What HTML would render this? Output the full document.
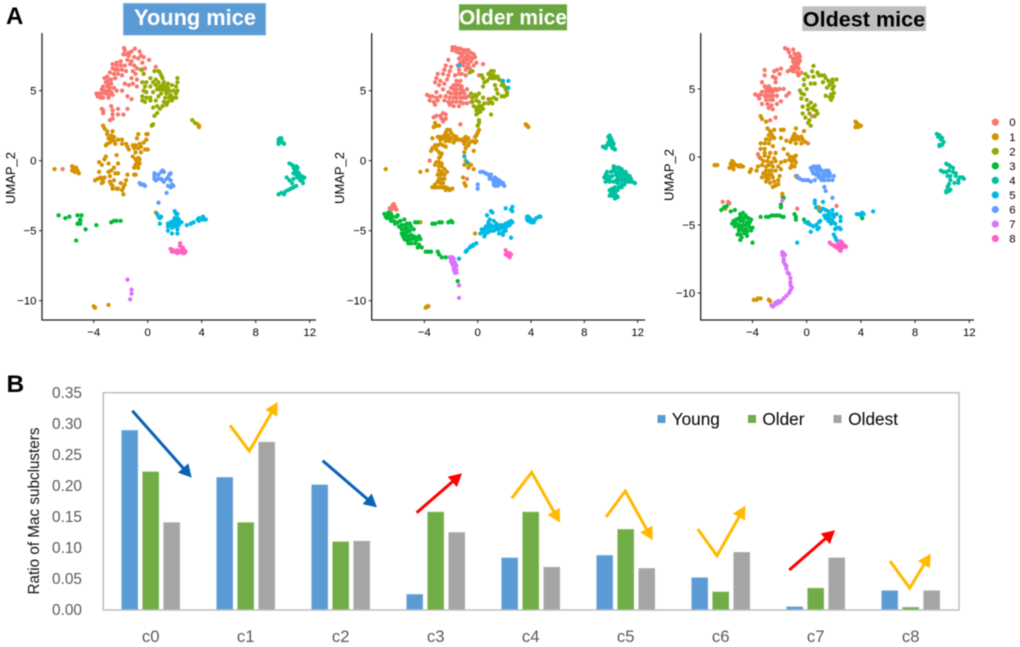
<!DOCTYPE html>
<html lang="en">
<head>
<meta charset="utf-8">
<title>Mac subclusters in young, older and oldest mice</title>
<style>
html,body{margin:0;padding:0;background:#fff;width:1020px;height:647px;overflow:hidden}
svg{display:block;font-family:"Liberation Sans",Arial,sans-serif;filter:blur(0.4px)}
</style>
</head>
<body>
<svg id="figure" xmlns="http://www.w3.org/2000/svg" width="1020" height="647" viewBox="0 0 1020 647">
  <defs>
    <marker id="head-blue" markerUnits="userSpaceOnUse" markerWidth="17" markerHeight="17" refX="5" refY="8.5" orient="auto"><path d="M0,1.5L13,8.5L0,15.5z" fill="#0a62b6"/></marker>
    <marker id="head-yellow" markerUnits="userSpaceOnUse" markerWidth="17" markerHeight="17" refX="5" refY="8.5" orient="auto"><path d="M0,1.5L13,8.5L0,15.5z" fill="#ffb900"/></marker>
    <marker id="head-red" markerUnits="userSpaceOnUse" markerWidth="17" markerHeight="17" refX="5" refY="8.5" orient="auto"><path d="M0,1.5L13,8.5L0,15.5z" fill="#fe0000"/></marker>
  </defs>
  <rect width="1020" height="647" fill="#fff"/>

  <text x="6" y="24" font-size="24" font-weight="700" fill="#000">A</text>
  <text x="6.5" y="392" font-size="24.5" font-weight="700" fill="#000">B</text>

  <rect x="123.5" y="3.5" width="142" height="31.5" fill="#5b9bd5" stroke="#7fb2e0" stroke-width="1"/>
  <text x="195" y="25" font-size="21.8" font-weight="700" fill="#fff" text-anchor="middle">Young mice</text>
  <rect x="459" y="4.3" width="108" height="26" fill="#6aa63f"/>
  <text x="513" y="24.7" font-size="20.9" font-weight="700" fill="#fff" text-anchor="middle">Older mice</text>
  <rect x="802.3" y="6.3" width="123.7" height="24.7" fill="#bfbfbf"/>
  <text x="864" y="26.7" font-size="21.6" font-weight="700" fill="#000" text-anchor="middle">Oldest mice</text>

  <g id="umap-layer"></g>
  <g id="umap-legend"></g>
  <g id="bar-layer"></g>

  <g fill="none" stroke-width="3" stroke-linejoin="miter">
    <polyline points="132.3,410.7 186.4,471.7" stroke="#0a62b6" marker-end="url(#head-blue)"/>
    <polyline points="230,425.3 249.3,451 273.7,408.9" stroke="#ffb900" marker-end="url(#head-yellow)"/>
    <polyline points="322.7,460.7 370.9,502.1" stroke="#0a62b6" marker-end="url(#head-blue)"/>
    <polyline points="416.7,512.7 456,478.6" stroke="#fe0000" marker-end="url(#head-red)"/>
    <polyline points="511.7,498.3 531.7,472.3 556.1,515.7" stroke="#ffb900" marker-end="url(#head-yellow)"/>
    <polyline points="606,517 625.3,491 648.8,533.3" stroke="#ffb900" marker-end="url(#head-yellow)"/>
    <polyline points="697.7,529 717,555.7 741.4,512.7" stroke="#ffb900" marker-end="url(#head-yellow)"/>
    <polyline points="789.3,570 829,535.5" stroke="#fe0000" marker-end="url(#head-red)"/>
    <polyline points="890,561 909.7,588 926.5,560.5" stroke="#ffb900" marker-end="url(#head-yellow)"/>
  </g>
</svg>

<script>
// ---------- bar chart data ----------
const categories = ["c0","c1","c2","c3","c4","c5","c6","c7","c8"];
const seriesYoung  = [0.289,0.213,0.201,0.024,0.083,0.087,0.051,0.004,0.030];
const seriesOlder  = [0.222,0.140,0.109,0.157,0.157,0.129,0.028,0.034,0.003];
const seriesOldest = [0.140,0.270,0.110,0.124,0.068,0.066,0.092,0.083,0.030];
const seriesNames  = ["Young","Older","Oldest"];
const barTicks = ["0.00","0.05","0.10","0.15","0.20","0.25","0.30","0.35"];

// ---------- UMAP data (UMAP_1, UMAP_2) ----------
const clusterLabels = ["0","1","2","3","4","5","6","7","8"];
const xTickValues = [-4,0,4,8,12];
const yTickValuesYoung = [5,0,-5,-10];

const young0 = [[-1.75,8.05],[-1.7,7.9],[-.95,8],[-1.2,7.8],[-1.4,7.7],[-.6,7.8],[-.5,7.5],[-1.8,7.6],[-1.6,7.6],[-1.4,7.5],[-1,7.4],[-.3,7.4],[-.7,7.3],[-.4,7],[.1,7.2],[-1.2,7.1],[-1.5,7.2],[-2,7.1],[-2.3,7],[-2.6,6.9],[-2.3,6.8],[-2,6.8],[-1.7,6.8],[-1.3,6.9],[-1,6.8],[-.8,6.6],[-.4,6.5],[-.2,6.6],[.6,6.7],[-2.6,6.6],[-2.4,6.5],[-2.2,6.5],[-1.9,6.5],[-1.6,6.4],[-1.1,6.4],[-.9,6.2],[-2.8,6.3],[-2.5,6.2],[-2.2,6.2],[-1.9,6.1],[-1.2,5.9],[-.8,5.8],[-.3,6.2],[-3,6],[-3.2,5.9],[-2.9,5.8],[-2.7,5.8],[-2.4,5.9],[-3.1,5.6],[-2.9,5.5],[-2.7,5.5],[-1.7,5.5],[-1.4,5.4],[-1.1,5.5],[-3.3,5.3],[-3,5.3],[-2.8,5.2],[-2.5,5.2],[-.8,5.3],[-3.4,5.1],[-3.2,5],[-2.9,5],[-2.7,4.9],[-2.3,5],[-1.9,5],[-3.8,4.8],[-3.6,4.8],[-3.4,4.8],[-3.1,4.8],[-2.9,4.7],[-2.6,4.7],[-3.7,4.6],[-3.5,4.5],[-3.3,4.5],[-2.9,4.5],[-1.5,4.6],[-1.2,4.4],[-3.4,3.7],[-3.3,3.6],[-2.7,3.9],[-3.3,3.4],[-2.6,3.6],[-2.2,3.7],[-1.5,3.7],[-2.6,3.3],[-2.2,3.3],[-1.8,3.3],[-2.6,3],[-2.8,2.9],[-6.3,-.6]];
const young1 = [[-3.3,2.5],[-3.2,2.3],[-3,2.1],[-2.6,2.1],[-3,1.9],[-2.7,1.8],[-2.5,1.7],[-2.9,1.6],[-2.7,1.5],[-2.5,1.4],[-2.2,1.5],[-1.9,1.5],[-2.8,1.3],[-3,1.2],[-3.1,1.1],[-2.4,1.2],[-1.9,1.2],[-1.6,1.2],[-1.5,1],[-1.4,.8],[-1.1,1.1],[-1,.9],[-.9,1.1],[-.7,1.9],[-.8,1.6],[-.6,1.2],[-.5,1],[-.3,1.3],[-.1,1.9],[0,1.9],[-.1,1.5],[-.7,.9],[-.9,.6],[-.5,.6],[-.2,.8],[0,.8],[-3.1,.3],[-3.2,.1],[-2.3,.4],[-3.6,-.1],[-3.4,-.3],[-2.9,-.2],[-2.2,-.2],[-1.1,.3],[-.9,.1],[-.7,.2],[-.6,.1],[-.9,-.3],[-.8,-.4],[-1,-.5],[-.7,-.5],[-.8,-.1],[-.6,-.2],[-3.6,-.8],[-3.7,-1.3],[-3.9,-1.4],[-3.5,-1.2],[-3.4,-1.3],[-3.3,-1.5],[-3.2,-1.2],[-3.4,-1.6],[-2.9,-.8],[-2.7,-.7],[-2.5,-.5],[-2.8,-1.1],[-2.4,-.9],[-2.2,-.9],[-1.5,-1],[-1,-1],[-.9,-1],[-2.8,-1.5],[-2.7,-1.7],[-2.5,-1.4],[-2.6,-1.8],[-2.6,-2],[-2.3,-2],[-2.2,-2],[-2,-1.6],[-1.7,-1.7],[-1.8,-1.9],[-1.9,-2.1],[-1.8,-2.4],[-1.6,-1.4],[-6.9,-.6],[-5.6,-.4],[-5.5,-.5],[-5.4,-.6],[-5.3,-.5],[-5.6,-.7],[-5.4,-.8],[-5.2,-.7],[-5.1,-.9],[-5.2,-.8],[-4,-10.4],[-3.9,-10.5],[-2.9,-10.3],[3.7,2.6],[3.8,2.5],[3.8,2.4],[.6,-3.7]];
const young2 = [[-.5,6.5],[-.3,6.2],[.5,6.4],[.8,6.4],[.9,6.3],[1,6.1],[.2,5.9],[.6,5.8],[1.1,5.9],[2.2,5.9],[-.4,5.6],[-.1,5.6],[.4,5.6],[.8,5.6],[1.2,5.6],[1.5,5.5],[2.2,5.6],[-.2,5.3],[.2,5.3],[.6,5.4],[.9,5.3],[1.1,5.4],[1.3,5.3],[1.5,5.2],[1.8,5.4],[2.1,5.3],[.7,5.1],[.9,5.1],[1.1,5.1],[1.3,5],[1.6,5],[1.9,5],[2.2,5],[-.3,5],[-.1,4.9],[.4,4.9],[1,4.8],[1.4,4.8],[1.7,4.7],[2.1,4.8],[-.4,4.6],[-.1,4.5],[.2,4.5],[.8,4.6],[1.3,4.5],[1.6,4.5],[1.9,4.5],[2.1,4.5],[-.4,4.3],[-.2,4.2],[.2,4.3],[.6,4.3],[1.2,4.2],[1.5,4.2],[1.8,4.3],[.4,3.8],[.7,3.9],[1.1,3.9],[1.4,4],[.9,3.7],[.7,3.4],[.5,3.2],[.3,2.5],[.4,2.6],[3.3,2.9],[3.5,2.7]];
const young3 = [[-6.6,-3.9],[-6.1,-4.1],[-5.8,-4],[-5.2,-3.9],[-4.9,-3.9],[-5,-4.3],[-5,-4.2],[-5.2,-4.5],[-5,-4.5],[-5.1,-4.5],[-4.6,-4.9],[-5.3,-5.7],[-3.8,-4.6],[-2.7,-4.4],[-2.5,-4.3],[-2.3,-4.3],[-2,-4.3]];
const young4 = [[9.8,1.6],[9.7,1.5],[9.9,1.6],[9.9,1.4],[9.7,1.3],[9.7,1.2],[10,1.3],[10.1,1.2],[10.5,-.2],[10.7,-.3],[10.8,-.5],[11,-.4],[11.1,-.5],[10.9,-.7],[11.1,-.8],[11.2,-.9],[10.8,-.9],[11,-1],[11.3,-1.1],[11.4,-1.1],[11.6,-1.2],[11.5,-1.3],[10.3,-1.2],[10.5,-1.4],[10.8,-1.3],[11.1,-1.2],[11.3,-1.4],[10.7,-1.6],[11.5,-1.6],[11,-1.8],[10.8,-1.9],[10.6,-2],[10.4,-2.1],[10.2,-2.2],[9.9,-2.3],[9.7,-2.4],[10.1,-2.4]];
const young5 = [[.7,-3.8],[.8,-4],[.9,-4.1],[1,-4],[.9,-4.5],[2,-3.6],[2.1,-3.8],[2.2,-3.8],[2,-4.1],[2.2,-4.1],[2.3,-4.2],[2.1,-4.3],[1.9,-4.3],[2.3,-4.4],[2.5,-4.4],[1.7,-4.4],[1.5,-4.5],[1.5,-4.7],[1.7,-4.6],[1.9,-4.6],[2.1,-4.5],[2.3,-4.6],[2.1,-4.7],[1.8,-4.8],[2.2,-4.9],[1.5,-5],[1.8,-5.2],[2.2,-5.2],[2.9,-4.6],[3.2,-4.5],[3.4,-4.4],[3.7,-4.2],[3.8,-4.1],[3.9,-4.2],[4,-4.1],[4.1,-4.2],[4.2,-4.2],[4.3,-4.2],[3.8,-4.3],[4.1,-4]];
const young6 = [[.5,-.9],[.5,-1.1],[.5,-1.3],[.6,-1.4],[.8,-1],[1,-.8],[1.1,-.7],[1.2,-.8],[.8,-1.3],[1,-1.3],[1.1,-1.4],[1.2,-1.5],[1.4,-1.3],[1.5,-1.2],[1.6,-1],[1.7,-.9],[1.7,-1.4],[1.5,-1.8],[1.7,-1.9],[1.9,-1.8],[1.8,-1.7],[1.4,-2.3],[-.6,-1.6],[-.5,-1.7],[-.3,-1.7],[-.2,-1.8],[-.4,-1.7],[.8,-3]];
const young7 = [[-1.5,-8.5],[-1.2,-9.2],[-1.2,-9.5],[-1.3,-9.9]];
const young8 = [[1.7,-6.3],[1.8,-6.5],[2,-6.5],[2.2,-6.6],[2.4,-6.5],[2.6,-6.6],[2.7,-6.4],[2.6,-6.2],[2.4,-6.1],[2.4,-5.9],[2.7,-6.6],[2.8,-6.5],[1.9,-6.4],[2.5,-6.4],[2.2,-6.4]];

const older0 = [[-1.9,8.1],[-1.7,8.1],[-1.5,8],[-1.9,7.9],[-1.6,7.8],[-1.3,8],[-1.1,7.9],[-.9,7.9],[-.7,7.9],[-1.4,7.7],[-1.1,7.7],[-.8,7.6],[-.5,7.7],[-.3,7.6],[-.2,7.4],[-1.2,7.5],[-.9,7.4],[-.6,7.4],[-.4,7.3],[-1.4,7.3],[-1.1,7.2],[-.8,7.2],[-.5,7.1],[-.1,7],[-1.3,7],[-1,7],[-.7,6.9],[-.3,6.8],[-1.5,6.8],[-1.1,6.8],[-.8,6.7],[.4,6.9],[-2.2,7.2],[-2.4,6.8],[-2,6.7],[-1.4,6.5],[-.9,6.5],[-.6,6.6],[-2.5,6.5],[-2.1,6.4],[-1.4,6.2],[-1.2,6.2],[-.9,6.1],[-3,6.2],[-2.6,6.2],[-2.2,6.1],[-1.7,6.1],[-3.1,5.9],[-2.8,5.7],[-2.3,5.8],[-1.6,5.7],[-1.3,5.7],[-3.2,5.6],[-2.9,5.4],[-2.5,5.5],[-1.8,5.4],[-1.6,5.4],[-1.4,5.4],[-1.2,5.3],[-2,5.2],[-1.8,5.1],[-1.6,5.1],[-1.3,5.1],[-1.1,5],[-.8,5.1],[-2.6,5.1],[-3.1,4.9],[-2.2,4.9],[-2,4.8],[-1.7,4.8],[-1.5,4.8],[-1.3,4.8],[-1,4.8],[-3.8,4.7],[-3.6,4.6],[-3.4,4.6],[-3.1,4.5],[-2.8,4.6],[-2.4,4.6],[-2.1,4.5],[-1.8,4.5],[-1.6,4.5],[-1.3,4.5],[-1.1,4.5],[-.9,4.5],[-.7,4.6],[-3.6,4.3],[-3.3,4.2],[-3,4.3],[-2.5,4.3],[-2.2,4.2],[-1.9,4.2],[-1.6,4.2],[-1.3,4.2],[-1.1,4.1],[-.8,4.1],[-.5,4.2],[-3.2,4],[-2.1,4],[-1.8,3.9],[-1.4,3.9],[-2.6,3.4],[-2.4,3.3],[-2.8,3.2],[-3.3,3.1],[-3.1,3.2],[-2.7,3],[-2.4,3],[-2.6,2.8],[-1.3,2.6],[-6.6,-3.4],[-6.4,-3.2],[-6.3,-3.4],[-6.1,-3.5],[-6.5,-3.5],[-6.3,-3.1],[-6.2,-3.3],[-3.6,0],[-.8,-1.3],[.1,6.1],[.8,4.4]];
const older1 = [[-3.2,2.7],[-3.1,2.5],[-3.3,2.4],[-2.9,2.5],[-2.3,2.2],[-2.1,2.2],[-2.4,2],[-2,2],[-1.8,1.8],[-1.6,1.7],[-2.5,1.8],[-2.2,1.8],[-3,1.7],[-2.8,1.7],[-2.6,1.6],[-2.3,1.6],[-2,1.6],[-1.7,1.5],[-1.5,1.5],[-1.3,1.5],[-3.4,1.6],[-2.8,1.5],[-2.4,1.4],[-2.1,1.4],[-1.8,1.3],[-.9,1.7],[-1,1.6],[-.7,1.6],[-.9,1.4],[-1.1,1.4],[-.6,1.3],[-1,1.2],[-.7,1.1],[-.4,1.4],[-.2,1.3],[-.1,1.4],[.1,2.2],[0,2],[-.1,1.8],[-.2,1.7],[-3.2,1.1],[-3,1.1],[-2.8,1.2],[-2.6,1.1],[-2.4,1],[-3.4,.9],[-3.5,.7],[-3.1,.8],[-.9,.9],[-1,.6],[-.3,.7],[-2.9,.6],[-2.8,.3],[-2.7,.5],[-2.9,.2],[-3.1,-.1],[-2.9,-.1],[-2.7,-.2],[-3.2,-.3],[-2.9,-.4],[-2.7,-.4],[-1,-.3],[-.7,-.2],[-.5,-.3],[-.9,0],[-.7,-.5],[-2.9,-.7],[-2.7,-.8],[-2.3,-.8],[-2.5,-.6],[-3,-1],[-2.8,-1],[-2.5,-1],[-2.9,-1.3],[-2.7,-1.3],[-2.5,-1.3],[-3,-1.5],[-2.8,-1.6],[-2.6,-1.6],[-3.2,-1.9],[-3,-1.9],[-2.8,-1.9],[-2.6,-1.9],[-3.4,-1.9],[-2.4,-1.9],[-2.2,-2],[-2.4,-2.1],[-2.1,-2.1],[-1.9,-2],[-3.2,-1.7],[-4.3,-.8],[-3.8,-.7],[-2.9,-1.4],[-1.1,-1.2],[-1,-1.6],[-.9,-1.8],[-.3,-.6],[-6.9,-.6],[3.6,2.6],[3.7,2.5],[3.8,2.4],[-3.9,-10.5],[-3.8,-10.4],[-3.7,-10.4],[-4.3,-4.4],[-.2,-5.2]];
const older2 = [[-.6,6.3],[-.4,6.4],[.3,6.1],[.4,5.9],[.5,5.6],[.8,6.2],[1,6.4],[1.2,6.4],[1,6.1],[1.2,6.1],[.9,5.9],[1.1,5.9],[1.3,5.9],[1.5,6],[1.6,5.8],[1.8,5.7],[.7,5.7],[.4,5.3],[1.3,5.4],[1.4,5.1],[1.8,5.4],[1.9,5.5],[2,5.3],[2.1,5.1],[2.2,4.9],[2.2,4.7],[2,4.6],[1.8,4.6],[2.2,5.2],[1.5,4.8],[1.2,4.5],[1.4,4.4],[.9,4.4],[1,4.2],[.8,4.1],[1.1,4.1],[-.5,4.8],[-.2,4.7],[-.1,4.6],[.1,4.8],[-.4,4.5],[-.1,4.3],[.1,4.2],[.4,4.5],[-.4,4.2],[-.3,3.9],[-.1,3.8],[.1,3.9],[.3,3.9],[.5,4.1],[-.1,3.6],[0,3.4],[.2,3.5],[.4,3.7],[.1,3.7],[-.1,3.3],[1,3.3],[.1,2.9],[.1,2.7],[0,2.5]];
const older3 = [[-7,-3.8],[-6.9,-4],[-6.8,-3.9],[-6.7,-3.7],[-6.6,-3.9],[-6.8,-4.1],[-6.6,-4.1],[-6.5,-3.8],[-6.4,-4],[-6.5,-4.3],[-6.3,-4.3],[-6.1,-4],[-6,-3.9],[-6.2,-4.5],[-6,-4.4],[-5.8,-4.3],[-5.5,-4.2],[-5.9,-4.7],[-5.7,-4.6],[-5.5,-4.6],[-5.3,-4.5],[-5.1,-4.5],[-5.7,-4.9],[-5.5,-4.9],[-5.3,-4.8],[-5,-4.7],[-5.7,-5.2],[-5.5,-5.2],[-5.3,-5.1],[-5.1,-5],[-4.8,-4.9],[-5.6,-5.4],[-5.4,-5.4],[-5.2,-5.4],[-5,-5.3],[-4.8,-5.4],[-5.5,-5.6],[-5.3,-5.7],[-5.1,-5.6],[-4.9,-5.6],[-4.6,-5.5],[-4.4,-5.4],[-4.3,-5.6],[-4.6,-5.7],[-5,-5.9],[-5.2,-5.9],[-4.7,-5.9],[-4.4,-6],[-4.5,-6.2],[-4.2,-6.2],[-3.7,-6.5],[-3.5,-6.5],[-3.9,-6.5],[-3,-6.5],[-2.9,-6.7],[-2.7,-6.9],[-2.4,-6.9],[-4.5,-4.4],[-4.7,-4.4],[-3.4,-4.5],[-3.2,-4.5],[-2.9,-4.4],[-2.7,-4.4],[-2.2,-4.4],[-2,-4.3],[-1.9,-4.4],[-1.5,-8.6]];
const older4 = [[9.4,1],[9.6,.9],[9.7,1.1],[9.8,1.3],[9.9,1.2],[10,1.1],[10.2,1.2],[10.1,1.4],[9.9,1.5],[10,1.6],[9.8,1.7],[9.9,1.8],[10.2,.9],[10.3,.8],[10.1,.9],[10.2,-.4],[10.4,-.5],[10.2,-.6],[10.6,-.5],[10.8,-.6],[10,-.8],[10.3,-.8],[10.5,-.8],[10.7,-.8],[10.9,-.8],[11.1,-.8],[9.7,-.8],[9.6,-1],[9.8,-1.1],[10.1,-1.1],[10.4,-1],[10.6,-1],[10.8,-1],[11,-1],[11.2,-1],[11.4,-1.1],[9.5,-1.2],[9.7,-1.3],[9.9,-1.3],[10.5,-1.2],[10.7,-1.2],[10.9,-1.2],[11.1,-1.2],[11.3,-1.3],[11.5,-1.3],[9.6,-1.5],[9.9,-1.5],[10.2,-1.5],[10.4,-1.4],[10.6,-1.4],[10.8,-1.4],[11,-1.4],[11.2,-1.5],[11.4,-1.5],[11.8,-1.6],[11.6,-1.5],[10.5,-1.6],[10.8,-1.7],[11,-1.7],[10.6,-1.9],[10.8,-1.9],[10.3,-1.9],[10.1,-2],[9.9,-2.1],[10.2,-2.1],[10.5,-2.1],[10.3,-2.3],[10,-2.3],[10.1,-2.5],[10.4,-2.5],[10.3,-2.7],[10.5,-2.6],[9.9,-2.5]];
const older5 = [[1,-3.6],[1.1,-3.7],[.7,-3.9],[2.1,-3.4],[2.5,-3.5],[2.6,-3.3],[2.6,-3.6],[.8,-4.4],[.9,-4.2],[.8,-4.6],[.6,-4.7],[1,-4.6],[1.2,-4.3],[1.4,-4.5],[.3,-4.9],[.5,-4.9],[.7,-4.9],[.9,-4.8],[1.1,-4.7],[1.3,-4.7],[1.5,-4.7],[1.7,-4.6],[1.9,-4.6],[2.1,-4.5],[2.3,-4.4],[2.5,-4.3],[2.6,-4.4],[.2,-5.2],[.4,-5.1],[.6,-5.2],[.8,-5.1],[1,-5],[1.2,-5],[1.4,-4.9],[1.6,-4.9],[1.8,-4.8],[2,-4.8],[2.2,-4.7],[2.4,-4.6],[1.6,-5.2],[1.9,-5.1],[2.1,-5],[1.9,-5.3],[2.5,-5.5],[.5,-5.4],[3.7,-4],[3.8,-4],[3.9,-4.1],[3.7,-4.2],[3.8,-4.3],[4,-4.2],[4,-4.4],[4.1,-4.3],[4.2,-4.4],[4.3,-4.2],[4.4,-4.1],[4.6,-4],[4.7,-4],[-.9,-6.5],[-.8,-6.4],[-.6,-6.2],[-.5,-6.1],[-.3,-6],[-.1,-5.9],[-.4,-6.1],[-1.4,-7],[1.9,5.7],[2.3,5.7],[2.3,5.2],[-1,.3],[-.8,-.1],[-1.4,6.8]];
const older6 = [[.2,-.8],[.4,-.8],[.6,-.9],[.8,-1],[.9,-1.1],[1,-1],[.9,-1.3],[1.1,-1.3],[1.3,-1.2],[1.4,-1.3],[1.2,-1.5],[1.4,-1.5],[1.6,-1.4],[1.7,-1.5],[1.9,-1.7],[2,-1.8],[1.5,-1.8],[1.3,-1.8],[1.6,-1.7],[1.2,-1.7],[0,-1.7],[0,-2],[1.9,-1.6]];
const older7 = [[-2.1,-6.9],[-2,-7],[-1.9,-6.9],[-1.8,-7],[-2,-7.2],[-1.8,-7.2],[-1.9,-7.4],[-1.7,-7.3],[-1.8,-7.6],[-1.6,-7.5],[-1.8,-7.8],[-1.6,-7.8],[-1.7,-8],[-1.6,-8],[-1.4,-8.9],[-1.4,-9.8]];
const older8 = [[2.1,-6.4],[2.2,-6.6],[2.1,-6.7],[2.3,-6.8],[2.4,-6.6],[2.5,-6.7],[2.4,-6.9]];

const oldest0 = [[-1.6,8],[-1.4,7.9],[-1.3,7.7],[-1,7.9],[-.9,7.6],[-.6,7.6],[-.5,7.4],[-1.2,7.4],[-.8,7.4],[-1,7.2],[-.7,7.2],[-.5,7.1],[-1,7],[-.8,7],[-.6,6.9],[-.9,6.8],[-.7,6.7],[-1.1,6.6],[-.9,6.5],[-.6,6.5],[-1.2,6.4],[-1,6.3],[-.7,6.2],[-.4,6.2],[-.6,6],[-1.9,6.5],[-2.2,6.4],[-1.4,6.3],[-3.1,6.4],[-2.4,6.3],[-2,6.1],[-3.1,6],[-2.5,5.9],[-2.3,5.8],[-3.3,5.5],[-2.3,5.5],[-2.8,5.2],[-3.1,5.2],[-3,5],[-2.8,5],[-2.6,5],[-2.3,5],[-2,5],[-3.3,4.8],[-3,4.8],[-2.7,4.8],[-2.5,4.8],[-2.2,4.9],[-1.7,5],[-1.3,4.7],[-1.5,4.5],[-3.8,4.6],[-3.6,4.5],[-3.4,4.6],[-3.1,4.5],[-2.9,4.5],[-2.7,4.5],[-2.5,4.5],[-2.2,4.5],[-2.7,4.2],[-3.5,4.3],[-3,4.2],[-2.5,4.2],[-1.9,4.1],[-3.3,3.9],[-2.9,3.9],[-2.6,3.8],[-2.2,3.9],[-2.8,3.6],[-2.5,3.5],[-2.3,2.9],[-2.7,2.7],[.4,3],[.1,1],[-3.6,.2],[-3.5,0],[-6.2,-3.3],[-5.8,-3.3],[-5.7,-3.4],[-.7,-3.8],[2.2,-3.6]];
const oldest1 = [[-3.4,3],[-3.3,2.8],[-3,2.6],[-2.9,2.1],[-2.7,1.9],[-2.4,2],[-1.9,2],[-1.7,2],[-.8,2.1],[-.2,1.9],[-2.6,1.7],[-2.8,1.6],[-2.5,1.5],[-1,1.5],[-.9,1.7],[-.7,1.5],[-.4,1.5],[-3,1.3],[-2.7,1.3],[-2.4,1.4],[-1.9,1.4],[-1.1,1.3],[-.9,1.3],[-.6,1.3],[-.3,1.3],[-.1,1.1],[-.4,1],[-3.4,1],[-3.1,1],[-2.8,1],[-1.5,1.2],[-1.2,1.1],[-.8,1],[-3.4,.6],[-3.1,.6],[-2.5,.8],[-1.7,.6],[-3.1,.3],[-2.7,.3],[-2.3,.3],[-1.4,.2],[-.8,.1],[-3.4,-.1],[-3.1,.1],[-2.8,0],[-2.4,-.1],[-3.2,-.3],[-2.9,-.3],[-2.6,-.4],[-2.3,-.3],[-1.9,-.4],[-1.6,-.3],[-1.3,-.2],[-1.1,-.3],[-.9,-.2],[-.8,-.4],[-1.2,0],[-1,0],[-3.6,-.7],[-3.3,-.6],[-3,-.7],[-2.8,-.6],[-2.5,-.7],[-2.1,-.7],[-1.1,-.6],[-.9,-.7],[-1.2,-.8],[-3,-1],[-2.8,-1],[-2.6,-1],[-2.3,-1],[-1.9,-.9],[-3.2,-1.2],[-3,-1.3],[-2.8,-1.3],[-2.6,-1.3],[-3.3,-1.5],[-3,-1.5],[-2.8,-1.6],[-2.5,-1.5],[-2,-1.4],[-3,-1.8],[-2.7,-1.9],[-2.4,-1.8],[-2.1,-1.7],[-2.5,-2.2],[-2.3,-2.1],[-2.1,-2],[-3.7,-1],[-4.1,-.9],[-.8,-1.4],[-.7,-1.5],[-4.2,-1.1],[-6.8,-.6],[-6.7,-.6],[-6.6,-.6],[-5.5,-.3],[-5.4,-.4],[-5.6,-.5],[-5.3,-.6],[-5.5,-.7],[-5.2,-.6],[-5,-.7],[-4.9,-.6],[-5.4,-.9],[-4.8,-.7],[-5.7,-.8],[-4.7,-.7],[-1.8,-2.7],[-1.8,-2.9],[-6,-3.8],[3.6,2.6],[3.7,2.4],[3.8,2.4],[3.9,2.3],[3.6,2.2],[3.8,2.2],[4,2.3],[3.7,2.5],[-3.7,-10.5],[-3.6,-10.4],[-3.4,-10.4],[-3.9,-10.5],[-2.8,-10.5],[-2.7,-10.6],[.7,-3.7],[.9,-3.7],[.9,-3.9]];
const oldest2 = [[.5,6.7],[.4,6.3],[-.1,6.1],[.8,6.2],[.9,6],[1.1,6],[1.3,6],[.5,5.9],[.1,5.9],[-.2,5.7],[1.4,5.8],[1.6,5.6],[1.9,5.7],[2.2,5.7],[.3,5.4],[.6,5.4],[-.2,5.3],[1.2,5.5],[1.9,5.5],[1.7,5.3],[2,5.2],[1.5,5.1],[1.9,5],[-.5,4.9],[0,5],[-.4,4.7],[-.2,4.6],[1.4,4.5],[2,4.7],[1.7,4.4],[1.8,4.6],[1.9,4.4],[1.8,4.2],[-.4,4.3],[0,4.2],[.1,3.8],[.3,4],[.4,3.6],[.6,3.8],[-.3,3.7],[.1,3.5],[.5,3.5],[.7,3.4],[.8,3.2],[-.3,3.2],[.2,3.2],[.6,3],[-.1,2.9],[.2,2.7],[.1,2.5],[.3,2.3]];
const oldest3 = [[-6.3,-3.9],[-6.1,-3.7],[-5.9,-3.6],[-5.6,-4],[-5.3,-3.9],[-4.9,-4.2],[-4.7,-4.1],[-4.5,-4.3],[-5,-4.5],[-4.8,-4.4],[-4.6,-4.5],[-4.3,-4.5],[-4.1,-4.6],[-5.4,-4.7],[-5.2,-4.6],[-4.9,-4.7],[-4.7,-4.7],[-4.4,-4.8],[-4.2,-4.8],[-5.5,-4.9],[-5.2,-4.9],[-5,-5],[-4.7,-5],[-4.5,-5],[-4.3,-5],[-5.3,-5.1],[-5,-5.2],[-4.8,-5.2],[-4.5,-5.3],[-4.2,-5.2],[-4,-5.2],[-5,-5.4],[-4.7,-5.4],[-4.4,-5.5],[-4.1,-5.4],[-5.1,-5.7],[-4.9,-5.7],[-4.6,-5.6],[-4.4,-5.8],[-4.8,-5.9],[-4.9,-6.1],[-4,-6.3],[-3.4,-4.4],[-3,-4.4],[-2.8,-4.4],[-2.6,-4.3],[-2.4,-4.3],[-2.2,-4.3],[-2,-4.3],[-1.8,-4.4],[-1.7,-4.4],[-1.9,-3.5],[-1.9,-3.7],[-1.7,-3],[-.9,-4.2],[-.8,-4.4],[-.8,-4.6],[-.2,-4.6],[.1,-4.8],[4.1,-4.5]];
const oldest4 = [[9.6,1.7],[9.7,1.5],[9.8,1.6],[9.9,1.3],[10,1.4],[10.1,1.1],[9.8,.9],[10,.9],[9.8,.8],[10.3,-.5],[10.5,-.6],[10.6,-.7],[10.8,-.8],[9.9,-1],[10.1,-1.1],[10.3,-1.1],[10.5,-1],[10.8,-1.1],[11,-1.2],[10.4,-1.4],[10.6,-1.4],[11,-1.4],[11.3,-1.5],[11.5,-1.5],[11.6,-1.6],[11.2,-1.7],[10.6,-1.7],[10.9,-1.9],[11.2,-1.9],[10.5,-2],[10.4,-2.2],[10.5,-2.5],[10.3,-2.5],[10.3,-2.6],[10.6,-2.4]];
const oldest5 = [[.6,-3.2],[.6,-3.4],[1.2,-3.3],[.7,-3.7],[1,-4],[1.2,-3.8],[1.4,-3.9],[1.6,-4],[1.9,-3.9],[1.3,-4.3],[1.5,-4.3],[1.7,-4.2],[1.9,-4.2],[2.2,-4.2],[1.4,-4.5],[1.7,-4.5],[2,-4.4],[2.5,-4.4],[1.6,-4.7],[1.9,-4.7],[2.5,-4.7],[1.8,-4.9],[2.1,-4.9],[-.1,-4.8],[.1,-4.9],[.3,-5],[.5,-5.1],[.7,-5],[.9,-5.2],[.8,-5.3],[.3,-5.5],[1,-4.7],[.9,-4.8],[2.1,-5.3],[2.2,-5.2],[2.4,-5.2],[2.5,-5.3],[2,-5.7],[2.1,-5.9],[2.2,-6.1],[2.4,-6.4],[-.7,-6.3],[3.7,-4.2],[3.9,-4.2],[4.1,-4.1],[4.2,-4.2],[4,-4.3],[4.9,-4]];
const oldest6 = [[.3,-.8],[.5,-.7],[.7,-.7],[.9,-.7],[.4,-1],[.7,-.9],[1,-.9],[.5,-1.2],[.8,-1.1],[1.1,-1],[1.4,-1],[1.6,-1],[.7,-1.3],[.9,-1.3],[1.2,-1.2],[1.5,-1.2],[1.7,-1.2],[.9,-1.5],[1.1,-1.5],[1.3,-1.4],[1.5,-1.4],[1.7,-1.4],[2,-1.4],[1.1,-1.7],[1.3,-1.7],[1.6,-1.7],[1.9,-1.7],[-.5,-1.6],[-.3,-1.7],[-.1,-1.7],[.1,-1.7],[.3,-1.8],[.6,-1.7],[1.3,-2.2],[1.4,-2.5],[1.9,-3],[-.7,-1.4]];
const oldest7 = [[-1.8,-7],[-1.7,-7.1],[-1.8,-7.2],[-1.6,-7.2],[-1.7,-7.5],[-1.7,-7.7],[-1.6,-7.9],[-1.5,-8],[-1.5,-8.2],[-1.4,-8.5],[-1.3,-8.6],[-1.2,-8.9],[-1.2,-9.2],[-1.2,-9.4],[-1.1,-9.6],[-1.2,-9.8],[-1.3,-10],[-1.5,-10.2],[-1.7,-10.4],[-1.9,-10.6],[-2,-10.7],[-2.2,-10.8],[-2.4,-10.9],[-2.5,-11],[-2.6,-10.9],[-2.3,-10.7],[-2.1,-10.6],[-1.8,-3.2]];
const oldest8 = [[1.7,-6.3],[1.8,-6.4],[2,-6.5],[2.1,-6.6],[2.3,-6.7],[2.4,-6.8],[2.5,-6.9],[2.6,-6.7],[2.7,-6.6],[2.8,-6.5],[2.5,-6.5],[2.3,-6.4],[2.6,-6.3],[2.5,-6.2],[2.2,-6.6],[2.9,-6.6]];

const clusterColors = ["#F8766D","#D39200","#93AA00","#00BA38","#00C19F","#00B9E3","#619CFF","#DB72FB","#FF61C3"];
const SVGNS = "http://www.w3.org/2000/svg";

function el(tag, parent, attrs, text) {
  const node = document.createElementNS(SVGNS, tag);
  for (const k in attrs) node.setAttribute(k, attrs[k]);
  if (text !== undefined) node.textContent = text;
  parent.appendChild(node);
  return node;
}

// ---------- UMAP panels ----------
function drawPanel(panel) {
  const layer = document.getElementById("umap-layer");
  const g = el("g", layer, {});
  
  
  const sx = v => panel.x0 + v * panel.kx;
  const sy = v => panel.y0 - v * panel.ky;

  panel.clusters.forEach((points, ci) => {
    const cg = el("g", g, {fill: clusterColors[ci]});
    
    
    points.forEach(p => {
      const c = el("circle", cg, {cx: sx(p[0]), cy: sy(p[1]), r: 2.15});
      
      
    });
  });

  const yAxis = el("line", g, {x1: panel.left, x2: panel.left, y1: 33, y2: 320.5, stroke: "#222", "stroke-width": 1.3});
  
  
  const xAxis = el("line", g, {x1: panel.left, x2: panel.right, y1: 320, y2: 320, stroke: "#222", "stroke-width": 1.3});
  
  

  xTickValues.forEach(v => {
    const t = el("line", g, {x1: sx(v), x2: sx(v), y1: 320, y2: 323, stroke: "#222", "stroke-width": 1});
    
    
    const l = el("text", g, {x: sx(v), y: 336, "font-size": 11.4, fill: "#000", "text-anchor": "middle"}, String(v).replace("-", "\u2212"));
    
    
  });
  yTickValuesYoung.forEach(v => {
    const t = el("line", g, {x1: panel.left - 3, x2: panel.left, y1: sy(v), y2: sy(v), stroke: "#222", "stroke-width": 1});
    
    
    const l = el("text", g, {x: panel.left - 5.5, y: sy(v) + 4, "font-size": 11.4, fill: "#000", "text-anchor": "end"}, String(v).replace("-", "\u2212"));
    
    
  });
  const title = el("text", g, {transform: "translate(" + panel.titleX + "," + panel.titleY + ") rotate(-90)", "font-size": 13, fill: "#000", "text-anchor": "middle"}, "UMAP_2");
  
  
}

drawPanel({name: "young", x0: 147.7, kx: 13.5, y0: 160.7, ky: 14, left: 42, right: 316, titleX: 15, titleY: 178,
  clusters: [young0,young1,young2,young3,young4,young5,young6,young7,young8]});
drawPanel({name: "older", x0: 477.7, kx: 13.33, y0: 160.7, ky: 14, left: 371.7, right: 645, titleX: 344, titleY: 178,
  clusters: [older0,older1,older2,older3,older4,older5,older6,older7,older8]});
drawPanel({name: "oldest", x0: 806.7, kx: 13.55, y0: 157, ky: 13.6, left: 700.7, right: 974, titleX: 673.5, titleY: 175,
  clusters: [oldest0,oldest1,oldest2,oldest3,oldest4,oldest5,oldest6,oldest7,oldest8]});

// ---------- cluster legend ----------
(function () {
  const g = document.getElementById("umap-legend");
  clusterLabels.forEach((label, i) => {
    const y = 122.2 + i * 14.55;
    const d = el("circle", g, {cx: 995.3, cy: y, r: 3.6, fill: clusterColors[i]});
    
    
    const t = el("text", g, {x: 1009.3, y: y + 4, "font-size": 11.4, fill: "#000"}, label);
    
    
  });
})();

// ---------- bar chart ----------
(function () {
  const g = document.getElementById("bar-layer");
  const barColors = ["#5b9bd5","#70ad47","#a5a5a5"];
  const barEdges = ["#7db1e1","#8abb66","#b3b3b3"];
  const series = [seriesYoung, seriesOlder, seriesOldest];
  const y0 = 609.3, perUnit = 619;
  const sy = v => y0 - v * perUnit;
  const sx = i => 150.7 + i * 95;

  const frame = el("rect", g, {x: 103.3, y: 392.7, width: 855.7, height: 217.3, fill: "none", stroke: "#bfbfbf", "stroke-width": 1.5});
  
  

  barTicks.forEach(tick => {
    const t = el("text", g, {x: 82, y: sy(+tick) + 5.5, "font-size": 15.4, fill: "#595959", "text-anchor": "end"}, tick);
    
    
  });
  categories.forEach((cat, i) => {
    series.forEach((values, s) => {
      const cx = sx(i) + (s - 1) * 21;
      const r = el("rect", g, {x: cx - 8, y: sy(values[i]), width: 16, height: y0 - sy(values[i]), fill: barColors[s], stroke: barEdges[s], "stroke-width": 0.7});
      
      
    });
    const t = el("text", g, {x: sx(i), y: 642, "font-size": 16.7, fill: "#595959", "text-anchor": "middle"}, cat);
    
    
  });

  const title = el("text", g, {transform: "translate(39,511) rotate(-90)", "font-size": 15.25, fill: "#111", "text-anchor": "middle"}, "Ratio of Mac subclusters");
  
  

  const legendSquareX = [657.5, 748, 833.5];
  const legendTextX = [671.7, 762.4, 848.3];
  seriesNames.forEach((name, s) => {
    const r = el("rect", g, {x: legendSquareX[s], y: 415, width: 8, height: 8, fill: barColors[s]});
    
    
    const t = el("text", g, {x: legendTextX[s], y: 425, "font-size": 17.2, fill: "#000"}, name);
    
    
  });
})();
</script>
</body>
</html>
